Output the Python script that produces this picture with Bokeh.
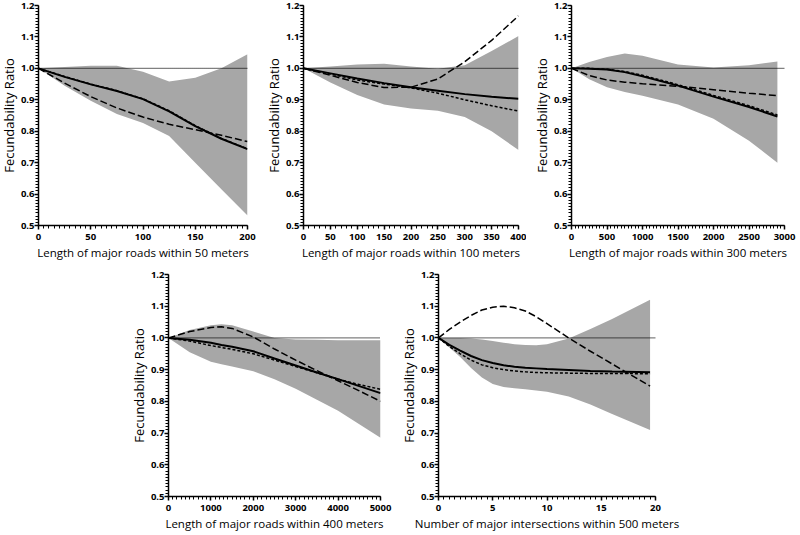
from bokeh.plotting import figure
from bokeh.layouts import row, column, Spacer
from bokeh.models import Range1d, FixedTicker, SingleIntervalTicker, PrintfTickFormatter, Span
from bokeh.embed import file_html
from bokeh.resources import INLINE

# ---------------- data ----------------
y_ticks = [0.5, 0.6, 0.7, 0.8, 0.9, 1.0, 1.1, 1.2]
y_label = "Fecundability Ratio"

# Panel 1: length of major roads within 50 m
p1_x = [0, 25, 50, 75, 100, 125, 150, 175, 200]
p1_solid = [1.0, 0.973, 0.949, 0.928, 0.902, 0.863, 0.816, 0.776, 0.743]
p1_dotted = [1.0, 0.974, 0.950, 0.929, 0.903, 0.865, 0.818, 0.777, 0.744]
p1_dashed = [1.0, 0.953, 0.910, 0.874, 0.845, 0.822, 0.805, 0.787, 0.767]
p1_hi = [1.0, 1.004, 1.008, 1.008, 0.989, 0.958, 0.970, 1.000, 1.045]
p1_lo = [1.0, 0.945, 0.897, 0.855, 0.826, 0.785, 0.700, 0.615, 0.532]

# Panel 2: within 100 m
p2_x = [0, 50, 100, 150, 200, 250, 300, 350, 400]
p2_solid = [1.0, 0.984, 0.968, 0.953, 0.940, 0.929, 0.918, 0.910, 0.903]
p2_dotted = [1.0, 0.982, 0.963, 0.950, 0.938, 0.921, 0.900, 0.881, 0.864]
p2_dashed = [1.0, 0.978, 0.955, 0.939, 0.940, 0.966, 1.021, 1.089, 1.167]
p2_hi = [1.0, 1.006, 1.012, 1.015, 1.006, 0.999, 1.010, 1.055, 1.103]
p2_lo = [1.0, 0.955, 0.915, 0.885, 0.872, 0.865, 0.845, 0.800, 0.740]

# Panel 3: within 300 m
p3_x = [0, 250, 500, 750, 1000, 1500, 2000, 2500, 2900]
p3_solid = [1.0, 0.999, 0.996, 0.988, 0.975, 0.945, 0.910, 0.877, 0.847]
p3_dotted = [1.0, 1.000, 0.997, 0.990, 0.978, 0.948, 0.914, 0.881, 0.852]
p3_dashed = [1.0, 0.977, 0.963, 0.956, 0.951, 0.943, 0.932, 0.921, 0.913]
p3_hi = [1.0, 1.020, 1.036, 1.047, 1.040, 1.012, 1.003, 1.010, 1.022]
p3_lo = [1.0, 0.965, 0.940, 0.925, 0.913, 0.885, 0.840, 0.770, 0.700]

# Panel 4: within 400 m
p4_x = [0, 500, 1000, 1250, 1500, 2000, 2500, 3000, 3500, 4000, 4500, 5000]
p4_solid = [1.0, 0.994, 0.985, 0.978, 0.972, 0.958, 0.935, 0.913, 0.891, 0.870, 0.848, 0.826]
p4_dotted = [1.0, 0.990, 0.976, 0.970, 0.964, 0.950, 0.930, 0.910, 0.890, 0.870, 0.853, 0.838]
p4_dashed = [1.0, 1.020, 1.033, 1.035, 1.030, 1.003, 0.965, 0.930, 0.897, 0.865, 0.833, 0.800]
p4_hi = [1.0, 1.025, 1.040, 1.043, 1.040, 1.020, 1.000, 0.995, 0.994, 0.993, 0.993, 0.993]
p4_lo = [1.0, 0.955, 0.925, 0.917, 0.910, 0.895, 0.870, 0.840, 0.805, 0.770, 0.728, 0.685]

# Panel 5: number of major intersections within 500 m
p5_x = [0, 1, 2, 3, 4, 5, 6, 7, 8, 9, 10, 12, 14, 16, 19.5]
p5_solid = [1.0, 0.978, 0.960, 0.943, 0.930, 0.921, 0.914, 0.909, 0.906, 0.904, 0.902,
            0.899, 0.896, 0.894, 0.892]
p5_dotted = [1.0, 0.973, 0.950, 0.930, 0.915, 0.906, 0.900, 0.896, 0.893, 0.891, 0.890,
             0.889, 0.888, 0.888, 0.887]
p5_dashed = [1.0, 1.027, 1.050, 1.071, 1.088, 1.097, 1.100, 1.095, 1.085, 1.067, 1.045,
             1.000, 0.958, 0.918, 0.848]
p5_hi = [1.0, 1.000, 1.000, 0.998, 0.995, 0.990, 0.985, 0.980, 0.978, 0.977, 0.980,
         0.998, 1.028, 1.060, 1.120]
p5_lo = [1.0, 0.970, 0.940, 0.905, 0.875, 0.855, 0.845, 0.841, 0.838, 0.834, 0.830,
         0.815, 0.790, 0.760, 0.710]

panels = [
    dict(x=p1_x, s=p1_solid, d=p1_dotted, ld=p1_dashed, hi=p1_hi, lo=p1_lo,
         xmax=200, interval=50, minor=10, label="Length of major roads within 50 meters"),
    dict(x=p2_x, s=p2_solid, d=p2_dotted, ld=p2_dashed, hi=p2_hi, lo=p2_lo,
         xmax=400, interval=50, minor=5, label="Length of major roads within 100 meters"),
    dict(x=p3_x, s=p3_solid, d=p3_dotted, ld=p3_dashed, hi=p3_hi, lo=p3_lo,
         xmax=3000, interval=500, minor=10, label="Length of major roads within 300 meters"),
    dict(x=p4_x, s=p4_solid, d=p4_dotted, ld=p4_dashed, hi=p4_hi, lo=p4_lo,
         xmax=5000, interval=1000, minor=10, label="Length of major roads within 400 meters"),
    dict(x=p5_x, s=p5_solid, d=p5_dotted, ld=p5_dashed, hi=p5_hi, lo=p5_lo,
         xmax=20, interval=5, minor=10, label="Number of major intersections within 500 meters"),
]

# geometry: (width, height, border_left, border_right, border_top, border_bottom)
geom = [
    (265, 271, 36, 14, 9, 42),
    (265, 271, 41, 8, 9, 42),
    (270, 271, 45, 12, 9, 42),
    (270, 270, 41, 16, 7, 41),
    (286, 270, 41, 27, 7, 41),
]

FONT = "Open Sans"
BAND = "#a7a7a7"


def make(pd, g):
    w, h, bl, br, bt, bb = g
    p = figure(width=w, height=h, output_backend="svg", toolbar_location=None,
               x_range=Range1d(0, pd["xmax"]), y_range=Range1d(0.5, 1.2),
               min_border_left=bl, min_border_right=br, min_border_top=bt, min_border_bottom=bb)
    p.outline_line_color = None
    p.grid.visible = False
    p.background_fill_color = "white"
    p.border_fill_color = "white"

    p.varea(x=pd["x"], y1=pd["lo"], y2=pd["hi"], fill_color=BAND, fill_alpha=1.0)
    p.add_layout(Span(location=1.0, dimension="width", line_color="black",
                      line_width=1.3, line_dash="1 1"))
    p.line(pd["x"], pd["ld"], line_color="black", line_width=1.5, line_dash="7 3")
    p.line(pd["x"], pd["s"], line_color="black", line_width=2.0)
    p.line(pd["x"], pd["d"], line_color="black", line_width=1.5, line_dash="3 2")

    # x axis
    xa = p.xaxis[0]
    xa.ticker = SingleIntervalTicker(interval=pd["interval"], num_minor_ticks=pd["minor"])
    xa.axis_label = pd["label"]
    # y axis
    ya = p.yaxis[0]
    ya.ticker = FixedTicker(ticks=y_ticks,
                            minor_ticks=[round(0.5 + 0.01 * i, 2) for i in range(71)])
    ya.formatter = PrintfTickFormatter(format="%.1f")
    ya.axis_label = y_label

    for ax in (xa, ya):
        ax.axis_line_width = 1.5
        ax.axis_line_color = "black"
        ax.major_tick_line_width = 1.5
        ax.minor_tick_line_width = 1.0
        ax.major_tick_in = 0
        ax.major_tick_out = 4
        ax.minor_tick_in = 0
        ax.minor_tick_out = 3
        ax.major_label_text_font = FONT
        ax.major_label_text_font_style = "bold"
        ax.major_label_text_font_size = "9.5px"
        ax.major_label_text_color = "black"
        ax.axis_label_text_font = FONT
        ax.axis_label_text_font_style = "normal"
        ax.axis_label_text_color = "black"
    xa.axis_label_text_font_size = "11.5px"
    ya.axis_label_text_font_size = "13px"
    xa.major_label_standoff = 4
    xa.axis_label_standoff = 2
    ya.major_label_standoff = 0
    ya.axis_label_standoff = 0
    return p


figs = [make(pd, g) for pd, g in zip(panels, geom)]

top = row(figs[0], figs[1], figs[2])
bottom = row(Spacer(width=130, height=270), figs[3], figs[4])
layout = column(top, bottom, margin=(-4, -4, -8, -4))

open("out.html", "w").write(file_html(layout, INLINE))
